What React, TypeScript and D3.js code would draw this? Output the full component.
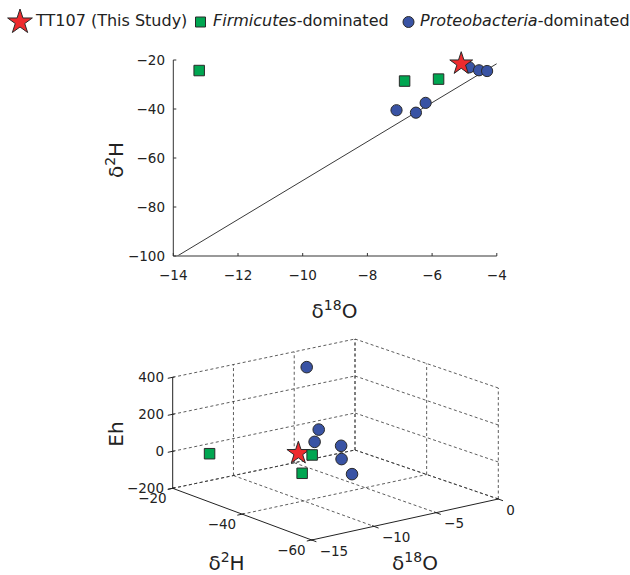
import React from "react";
import * as d3 from "d3";

// δ18O, δ2H and Eh of each sample group
const starO18 = [-5.1];
const starH2 = [-21.5];
const starEh = [-137];

const firmO18 = [-13.2, -6.85, -5.8];
const firmH2 = [-24.3, -28.6, -27.8];
const firmEh = [-8, -173, -94];

const proteoO18 = [-4.85, -4.55, -4.3, -7.1, -6.5, -6.2];
const proteoH2 = [-23, -24.2, -24.5, -40.5, -41.5, -37.5];
const proteoEh = [335, -65, 0, 60, -95, -45];

// meteoric water line end points
const mwlO18 = [-14, -4];
const mwlH2 = [-101, -21.5];

const topXTicks = [-14, -12, -10, -8, -6, -4];
const topYTicks = [-100, -80, -60, -40, -20];
const o18Ticks = [-15, -10, -5, 0];
const h2Ticks = [-20, -40, -60];
const ehTicks = [-200, 0, 200, 400];

const RED = "#ee2b2e";
const GREEN = "#00a651";
const BLUE = "#3953a4";
const EDGE = "#2a2a2a";
const FONT = "DejaVu Sans, sans-serif";
const TICK_FS = 13.5;

const fmt = d3.format("d");

const starPath = (r: number) => d3.symbol(d3.symbolStar, (r * r) / 0.8908130915)()!;
const squarePath = (s: number) => d3.symbol(d3.symbolSquare, s * s)()!;
const circlePath = (r: number) => d3.symbol(d3.symbolCircle, Math.PI * r * r)()!;

// top scatter
const xTop = d3.scaleLinear().domain([-14, -4]).range([173.3, 496.8]);
const yTop = d3.scaleLinear().domain([-100, -20]).range([256, 60]);

// 3d box: floor corners (Eh = -200) and height
const box = {
  a: [172.7, 488.3], // δ18O -15, δ2H -20
  b: [311.7, 540], // δ18O -15, δ2H -60
  c: [498.3, 499], // δ18O 0, δ2H -60
  d: [355, 450], // δ18O 0, δ2H -20
};
const u3 = d3.scaleLinear().domain([-15, 0]).range([0, 1]);
const v3 = d3.scaleLinear().domain([-20, -60]).range([0, 1]);
const z3 = d3.scaleLinear().domain([-200, 400]).range([0, 111]);

function proj(o: number, h: number, e: number): [number, number] {
  const u = u3(o), v = v3(h);
  const wa = (1 - u) * (1 - v), wd = u * (1 - v), wb = (1 - u) * v, wc = u * v;
  const x = wa * box.a[0] + wd * box.d[0] + wb * box.b[0] + wc * box.c[0];
  const y = wa * box.a[1] + wd * box.d[1] + wb * box.b[1] + wc * box.c[1] - z3(e);
  return [x, y];
}

function unit(p: number[], q: number[]) {
  const dx = q[0] - p[0], dy = q[1] - p[1];
  const l = Math.hypot(dx, dy);
  return [dx / l, dy / l];
}

const o18Lo = -15, o18Hi = 0, h2Lo = -20, h2Hi = -60, ehLo = -200, ehHi = 400;

type Seg = [[number, number], [number, number]];
const grid: Seg[] = [];
// back-left pane (δ2H = -20)
o18Ticks.forEach(t => { if (t !== o18Lo) grid.push([proj(t, h2Lo, ehLo), proj(t, h2Lo, ehHi)]); });
ehTicks.forEach(e => grid.push([proj(o18Lo, h2Lo, e), proj(o18Hi, h2Lo, e)]));
// back-right pane (δ18O = 0)
h2Ticks.forEach(h => grid.push([proj(o18Hi, h, ehLo), proj(o18Hi, h, ehHi)]));
ehTicks.forEach(e => grid.push([proj(o18Hi, h2Lo, e), proj(o18Hi, h2Hi, e)]));
// floor (Eh = -200)
o18Ticks.forEach(t => { if (t !== o18Lo) grid.push([proj(t, h2Lo, ehLo), proj(t, h2Hi, ehLo)]); });
h2Ticks.forEach(h => { if (h !== h2Hi) grid.push([proj(o18Lo, h, ehLo), proj(o18Hi, h, ehLo)]); });

const outLeft = unit(box.d, box.a);
const outFront = unit(box.a, box.b);

function Legend() {
  const y = 26;
  return (
    <g fontFamily={FONT} fontSize={16} fill="#222">
      <path d={starPath(13)} transform="translate(20,22)" fill={RED} stroke={EDGE} strokeWidth={1} />
      <text x={36} y={y}>TT107 (This Study)</text>
      <path d={squarePath(10)} transform="translate(200.5,22)" fill={GREEN} stroke={EDGE} strokeWidth={1} />
      <text x={213} y={y}>
        <tspan fontStyle="italic">Firmicutes</tspan>-dominated
      </text>
      <path d={circlePath(5.5)} transform="translate(408.5,22)" fill={BLUE} stroke={EDGE} strokeWidth={1} />
      <text x={420} y={y}>
        <tspan fontStyle="italic">Proteobacteria</tspan>-dominated
      </text>
    </g>
  );
}

function TopPlot() {
  const [x0, x1] = xTop.range();
  const [y0, y1] = yTop.range();
  const line = d3.line<number>().x(i => xTop(mwlO18[i])).y(i => yTop(mwlH2[i]));
  return (
    <g fontFamily={FONT} fill="#222">
      <defs>
        <clipPath id="topclip">
          <rect x={x0} y={y1} width={x1 - x0} height={y0 - y1} />
        </clipPath>
      </defs>
      <path d={line(d3.range(mwlO18.length))!} fill="none" stroke="#222" strokeWidth={0.9} clipPath="url(#topclip)" />
      <line x1={x0} x2={x1} y1={y0} y2={y0} stroke="#777" strokeWidth={1.6} />
      <line x1={x0} x2={x0} y1={y0} y2={y1} stroke="#333" strokeWidth={1} />
      {topXTicks.map(t => (
        <g key={"x" + t}>
          <line x1={xTop(t)} x2={xTop(t)} y1={y0} y2={y0 - 3} stroke="#333" />
          <text x={xTop(t)} y={279.5} fontSize={TICK_FS} textAnchor="middle">{fmt(t)}</text>
        </g>
      ))}
      {topYTicks.map(t => (
        <g key={"y" + t}>
          <line x1={x0} x2={x0 + 3} y1={yTop(t)} y2={yTop(t)} stroke="#333" />
          <text x={165} y={yTop(t) + 4.8} fontSize={TICK_FS} textAnchor="end">{fmt(t)}</text>
        </g>
      ))}
      <text transform="translate(123,160) rotate(-90)" fontSize={20} textAnchor="middle">
        δ<tspan dy={-8} fontSize={14}>2</tspan><tspan dy={8}>H</tspan>
      </text>
      <text x={334.5} y={318} fontSize={20} textAnchor="middle">
        δ<tspan dy={-8} fontSize={14}>18</tspan><tspan dy={8}>O</tspan>
      </text>
      {firmO18.map((o, i) => (
        <path key={"s" + i} d={squarePath(10.5)} transform={`translate(${xTop(o)},${yTop(firmH2[i])})`}
          fill={GREEN} stroke={EDGE} strokeWidth={1} />
      ))}
      {proteoO18.map((o, i) => (
        <path key={"c" + i} d={circlePath(5.6)} transform={`translate(${xTop(o)},${yTop(proteoH2[i])})`}
          fill={BLUE} stroke={EDGE} strokeWidth={1} />
      ))}
      {starO18.map((o, i) => (
        <path key={"st" + i} d={starPath(12)} transform={`translate(${xTop(o)},${yTop(starH2[i])})`}
          fill={RED} stroke={EDGE} strokeWidth={1} />
      ))}
    </g>
  );
}

function Plot3D() {
  const axisEh: Seg = [proj(o18Lo, h2Lo, ehLo), proj(o18Lo, h2Lo, ehHi)];
  const axisH2: Seg = [proj(o18Lo, h2Lo, ehLo), proj(o18Lo, h2Hi, ehLo)];
  const axisO18: Seg = [proj(o18Lo, h2Hi, ehLo), proj(o18Hi, h2Hi, ehLo)];
  return (
    <g fontFamily={FONT} fill="#222">
      {grid.map((s, i) => (
        <line key={"g" + i} x1={s[0][0]} y1={s[0][1]} x2={s[1][0]} y2={s[1][1]}
          stroke="#333" strokeWidth={0.8} strokeDasharray="3,2.5" />
      ))}
      {[axisEh, axisH2, axisO18].map((s, i) => (
        <line key={"a" + i} x1={s[0][0]} y1={s[0][1]} x2={s[1][0]} y2={s[1][1]} stroke="#222" strokeWidth={1} />
      ))}
      {ehTicks.map(e => {
        const p = proj(o18Lo, h2Lo, e);
        return (
          <g key={"eh" + e}>
            <line x1={p[0] - outLeft[0] * 2} y1={p[1] - outLeft[1] * 2} x2={p[0] + outLeft[0] * 5} y2={p[1] + outLeft[1] * 5} stroke="#222" />
            <text x={164} y={p[1] + 4.8} fontSize={TICK_FS} textAnchor="end">{fmt(e)}</text>
          </g>
        );
      })}
      {h2Ticks.map(h => {
        const p = proj(o18Lo, h, ehLo);
        return (
          <g key={"h2" + h}>
            <line x1={p[0] - outLeft[0] * 2} y1={p[1] - outLeft[1] * 2} x2={p[0] + outLeft[0] * 5} y2={p[1] + outLeft[1] * 5} stroke="#222" />
            <text x={p[0] - 6} y={p[1] + 14.6} fontSize={TICK_FS} textAnchor="end">{fmt(h)}</text>
          </g>
        );
      })}
      {o18Ticks.map(o => {
        const p = proj(o, h2Hi, ehLo);
        return (
          <g key={"o18" + o}>
            <line x1={p[0] - outFront[0] * 2} y1={p[1] - outFront[1] * 2} x2={p[0] + outFront[0] * 5} y2={p[1] + outFront[1] * 5} stroke="#222" />
            <text x={p[0] + 8} y={p[1] + 15.6} fontSize={TICK_FS} textAnchor="start">{fmt(o)}</text>
          </g>
        );
      })}
      <text transform="translate(123,434) rotate(-90)" fontSize={20} textAnchor="middle">Eh</text>
      <text x={226.5} y={570} fontSize={20} textAnchor="middle">
        δ<tspan dy={-8} fontSize={14}>2</tspan><tspan dy={8}>H</tspan>
      </text>
      <text x={415} y={570} fontSize={20} textAnchor="middle">
        δ<tspan dy={-8} fontSize={14}>18</tspan><tspan dy={8}>O</tspan>
      </text>
      {proteoO18.map((o, i) => {
        const p = proj(o, proteoH2[i], proteoEh[i]);
        return <path key={"c" + i} d={circlePath(5.8)} transform={`translate(${p[0]},${p[1]})`} fill={BLUE} stroke={EDGE} strokeWidth={1} />;
      })}
      {starO18.map((o, i) => {
        const p = proj(o, starH2[i], starEh[i]);
        return <path key={"st" + i} d={starPath(12)} transform={`translate(${p[0]},${p[1]})`} fill={RED} stroke={EDGE} strokeWidth={1} />;
      })}
      {firmO18.map((o, i) => {
        const p = proj(o, firmH2[i], firmEh[i]);
        return <path key={"s" + i} d={squarePath(10.5)} transform={`translate(${p[0]},${p[1]})`} fill={GREEN} stroke={EDGE} strokeWidth={1} />;
      })}
    </g>
  );
}

export default function App() {
  return (
    <svg width={630} height={575} style={{ position: "absolute", left: 0, top: 0, background: "#fff" }}>
      <Legend />
      <TopPlot />
      <Plot3D />
    </svg>
  );
}
